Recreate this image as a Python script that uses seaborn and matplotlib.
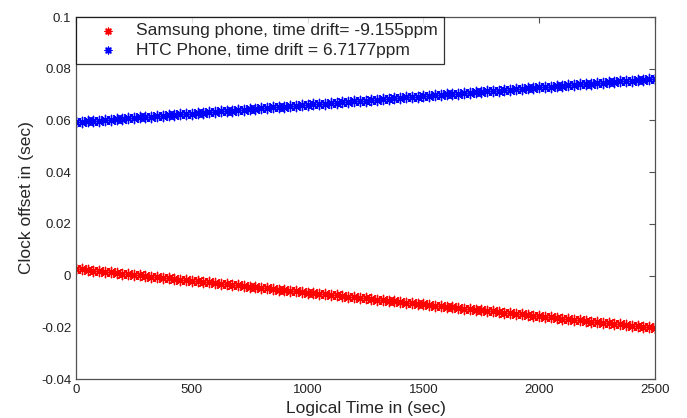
import seaborn as sns
import matplotlib.pyplot as plt
from matplotlib.ticker import FuncFormatter

# logical time samples (sec)
logical_time = list(range(0, 2501, 25))

# clock offset (sec), every 25 sec
samsung_offset = [
    0.00260, 0.00237, 0.00214, 0.00191, 0.00168, 0.00146, 0.00123, 0.00100, 0.00077, 0.00054,
    0.00031, 0.00008, -0.00015, -0.00038, -0.00060, -0.00083, -0.00106, -0.00129, -0.00152, -0.00175,
    -0.00198, -0.00221, -0.00244, -0.00266, -0.00289, -0.00312, -0.00335, -0.00358, -0.00381, -0.00404,
    -0.00427, -0.00450, -0.00472, -0.00495, -0.00518, -0.00541, -0.00564, -0.00587, -0.00610, -0.00633,
    -0.00656, -0.00678, -0.00701, -0.00724, -0.00747, -0.00770, -0.00793, -0.00816, -0.00839, -0.00862,
    -0.00884, -0.00907, -0.00930, -0.00953, -0.00976, -0.00999, -0.01022, -0.01045, -0.01068, -0.01090,
    -0.01113, -0.01136, -0.01159, -0.01182, -0.01205, -0.01228, -0.01251, -0.01274, -0.01296, -0.01319,
    -0.01342, -0.01365, -0.01388, -0.01411, -0.01434, -0.01457, -0.01480, -0.01502, -0.01525, -0.01548,
    -0.01571, -0.01594, -0.01617, -0.01640, -0.01663, -0.01685, -0.01708, -0.01731, -0.01754, -0.01777,
    -0.01800, -0.01823, -0.01846, -0.01869, -0.01891, -0.01914, -0.01937, -0.01960, -0.01983, -0.02006,
    -0.02029,
]
htc_offset = [
    0.05930, 0.05947, 0.05964, 0.05980, 0.05997, 0.06014, 0.06031, 0.06048, 0.06064, 0.06081,
    0.06098, 0.06115, 0.06132, 0.06148, 0.06165, 0.06182, 0.06199, 0.06216, 0.06232, 0.06249,
    0.06266, 0.06283, 0.06299, 0.06316, 0.06333, 0.06350, 0.06367, 0.06383, 0.06400, 0.06417,
    0.06434, 0.06451, 0.06467, 0.06484, 0.06501, 0.06518, 0.06535, 0.06551, 0.06568, 0.06585,
    0.06602, 0.06619, 0.06635, 0.06652, 0.06669, 0.06686, 0.06703, 0.06719, 0.06736, 0.06753,
    0.06770, 0.06787, 0.06803, 0.06820, 0.06837, 0.06854, 0.06870, 0.06887, 0.06904, 0.06921,
    0.06938, 0.06954, 0.06971, 0.06988, 0.07005, 0.07022, 0.07038, 0.07055, 0.07072, 0.07089,
    0.07106, 0.07122, 0.07139, 0.07156, 0.07173, 0.07190, 0.07206, 0.07223, 0.07240, 0.07257,
    0.07274, 0.07290, 0.07307, 0.07324, 0.07341, 0.07358, 0.07374, 0.07391, 0.07408, 0.07425,
    0.07441, 0.07458, 0.07475, 0.07492, 0.07509, 0.07525, 0.07542, 0.07559, 0.07576, 0.07593,
    0.07609,
]

samsung_label = 'Samsung phone, time drift= -9.155ppm'
htc_label = 'HTC Phone, time drift = 6.7177ppm'
x_ticks = [0, 500, 1000, 1500, 2000, 2500]
y_ticks = [-0.04, -0.02, 0, 0.02, 0.04, 0.06, 0.08, 0.1]

sns.set_style('white')
plt.rcParams['font.family'] = ['Liberation Sans', 'DejaVu Sans']

fig = plt.figure(figsize=(6.87, 4.18), dpi=100)
ax = fig.add_axes([76 / 687, 1 - 379 / 418, 579 / 687, 362 / 418])

star = (8, 2, 0)
sns.scatterplot(x=logical_time, y=samsung_offset, ax=ax, marker=star, color='#ff0000',
                s=55, linewidth=1.0, label=samsung_label)
sns.scatterplot(x=logical_time, y=htc_offset, ax=ax, marker=star, color='#0000ff',
                s=55, linewidth=1.0, label=htc_label)

ax.set_xlim(0, 2500)
ax.set_ylim(-0.04, 0.1)
ax.set_xticks(x_ticks)
ax.set_yticks(y_ticks)
ax.yaxis.set_major_formatter(FuncFormatter(lambda v, p: '%g' % round(v, 4)))
ax.tick_params(direction='in', length=4, width=0.8, colors='#505050', labelsize=9.5,
               top=True, right=True, labelcolor='#222222')
for s in ax.spines.values():
    s.set_color('#505050')
    s.set_linewidth(0.9)

ax.set_xlabel('Logical Time in (sec)', fontsize=12.5, labelpad=4)
ax.set_ylabel('Clock offset in (sec)', fontsize=12.5, labelpad=5)

leg = ax.legend(loc='upper left', borderaxespad=0, fancybox=False, fontsize=12.5,
                handletextpad=0.1, borderpad=0.35, labelspacing=0.25, handlelength=3.0,
                markerscale=0.65)
leg.get_frame().set_edgecolor('black')
leg.get_frame().set_linewidth(0.9)

fig.savefig('out.png', dpi=100)
